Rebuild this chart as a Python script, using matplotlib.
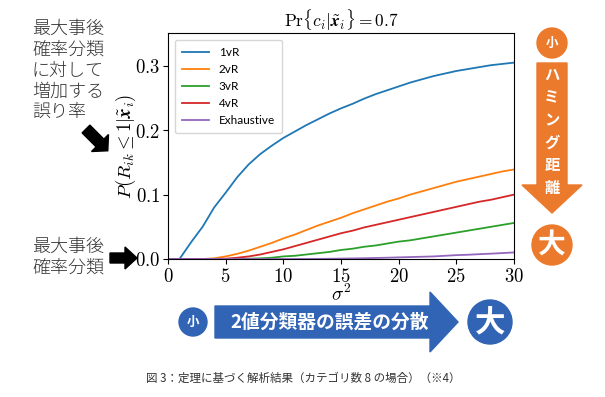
import numpy as np
import matplotlib
matplotlib.use("Agg")
import matplotlib.pyplot as plt
from matplotlib.patches import Circle, FancyArrow
from matplotlib.ticker import FuncFormatter

plt.rcParams['mathtext.fontset'] = 'cm'
JP = ['Noto Sans CJK JP', 'DejaVu Sans']

# sigma^2 grid and curves
sigma2 = np.arange(0, 31)
one_vs_rest = [0, 0.0, 0.026, 0.05, 0.08, 0.103, 0.127, 0.147, 0.163, 0.176, 0.188,
               0.198, 0.208, 0.217, 0.226, 0.234, 0.241, 0.249, 0.256, 0.262, 0.268,
               0.274, 0.279, 0.284, 0.288, 0.292, 0.295, 0.298, 0.301, 0.303, 0.305]
two_vs_rest = [0, 0, 0, 0, 0.001, 0.004, 0.008, 0.013, 0.019, 0.025, 0.032,
               0.038, 0.045, 0.052, 0.058, 0.064, 0.071, 0.077, 0.083, 0.089, 0.094,
               0.1, 0.105, 0.11, 0.115, 0.12, 0.124, 0.128, 0.132, 0.136, 0.139]
three_vs_rest = [0, 0, 0, 0, 0, 0, 0, 0.0005, 0.001, 0.002, 0.004,
                 0.005, 0.007, 0.009, 0.011, 0.014, 0.016, 0.019, 0.021, 0.024, 0.027,
                 0.029, 0.032, 0.035, 0.038, 0.041, 0.044, 0.047, 0.05, 0.053, 0.056]
four_vs_rest = [0, 0, 0, 0, 0, 0.0005, 0.002, 0.004, 0.007, 0.011, 0.015,
                0.02, 0.025, 0.03, 0.035, 0.04, 0.044, 0.049, 0.053, 0.057, 0.061,
                0.065, 0.069, 0.073, 0.077, 0.081, 0.085, 0.089, 0.092, 0.096, 0.1]
exhaustive = [0, 0, 0, 0, 0, 0, 0, 0, 0, 0, 0,
              0, 0, 0.0002, 0.0004, 0.0006, 0.0009, 0.0012, 0.0016, 0.002, 0.0025,
              0.003, 0.0035, 0.004, 0.005, 0.006, 0.0066, 0.0075, 0.0083, 0.0092, 0.0102]

series = [("1vR", one_vs_rest), ("2vR", two_vs_rest), ("3vR", three_vs_rest),
          ("4vR", four_vs_rest), ("Exhaustive", exhaustive)]

W, H = 605, 397
fig = plt.figure(figsize=(W / 100, H / 100), dpi=100)
ax = fig.add_axes([168 / W, 1 - 259 / H, (514 - 168) / W, (259 - 33) / H])

for name, vals in series:
    ax.plot(sigma2, vals, lw=1.3, label=name)

ax.set_xlim(0, 30)
ax.set_ylim(0, 0.351)
ax.set_xticks([0, 5, 10, 15, 20, 25, 30])
ax.set_yticks([0, 0.1, 0.2, 0.3])
ax.xaxis.set_major_formatter(FuncFormatter(lambda v, p: r'$%d$' % v))
ax.yaxis.set_major_formatter(FuncFormatter(lambda v, p: r'$%.1f$' % v))
ax.tick_params(labelsize=13.5, pad=2)
ax.set_xlabel(r'$\sigma^2$', fontsize=14)
ax.xaxis.set_label_coords(0.5, -0.11)
ax.set_ylabel(r'$P(R_{ik} \leq 1|\tilde{\boldsymbol{x}}_i)$', fontsize=13.5)
ax.yaxis.set_label_coords(-0.088, 0.5)
ax.set_title(r'$\mathrm{Pr}\{c_i|\tilde{\boldsymbol{x}}_i\} = 0.7$', fontsize=12.5, pad=2)
ax.legend(loc='upper left', prop={'family': 'Lato', 'size': 8.5}, handlelength=2.3,
          borderpad=0.6, labelspacing=0.5, borderaxespad=0.6)

# overlay in pixel coordinates for the decorations
ov = fig.add_axes([0, 0, 1, 1])
ov.set_xlim(0, W)
ov.set_ylim(H, 0)
ov.axis('off')

txt = '#333333'
ov.text(32, 20, "最大事後\n確率分類\nに対して\n増加する\n誤り率", family=JP, fontsize=13,
        weight='light', color=txt, va='top', ha='left', linespacing=1.2)
ov.text(32, 238, "最大事後\n確率分類", family=JP, fontsize=13, weight='light',
        color=txt, va='top', ha='left', linespacing=1.2)

# black arrows
ov.add_patch(FancyArrow(86, 129, 14, 14, width=11, head_width=24, head_length=11,
                        color='black'))
ov.add_patch(FancyArrow(110, 258, 15, 0, width=10, head_width=22, head_length=12,
                        color='black'))

# orange hamming-distance arrow
orange = '#EB7A2D'
ov.add_patch(Circle((552, 43), 15, color=orange))
ov.text(552, 43, "小", family=JP, fontsize=9, color='white', weight='bold',
        ha='center', va='center')
ov.add_patch(FancyArrow(552, 63, 0, 122, width=30, head_width=60, head_length=28,
                        color=orange))
for i, ch in enumerate("ハミング距離"):
    ov.text(552, 75 + i * 22.6, ch, family=JP, fontsize=11, color='white',
            weight='bold', ha='center', va='center')
ov.add_patch(Circle((552, 245), 20, color=orange))
ov.text(552, 245, "大", family=JP, fontsize=20, color='white', weight='bold',
        ha='center', va='center')

# blue variance arrow
blue = '#3164B5'
ov.add_patch(Circle((193, 322), 14, color=blue))
ov.text(193, 322, "小", family=JP, fontsize=9, color='white', weight='bold',
        ha='center', va='center')
ov.add_patch(FancyArrow(215, 322, 215, 0, width=32, head_width=60, head_length=28,
                        color=blue))
ov.text(330, 322, "2値分類器の誤差の分散", family=JP, fontsize=13.5, color='white',
        weight='bold', ha='center', va='center')
ov.add_patch(Circle((490, 322), 22, color=blue))
ov.text(490, 322, "大", family=JP, fontsize=22, color='white', weight='bold',
        ha='center', va='center')

ov.text(303, 378, "図 3：定理に基づく解析結果（カテゴリ数 8 の場合）（※4）", family=JP,
        fontsize=8.3, color=txt, ha='center', va='center')

fig.savefig("out.png", dpi=100)
